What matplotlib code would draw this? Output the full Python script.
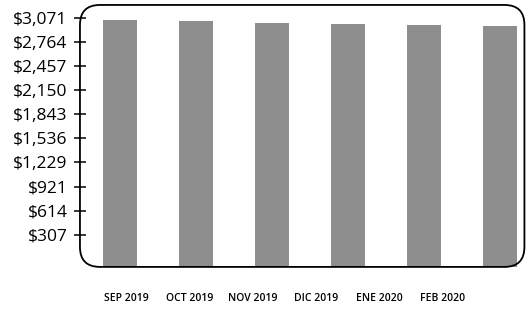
import numpy as np
import matplotlib
matplotlib.use("Agg")
import matplotlib.pyplot as plt
from matplotlib.patches import FancyBboxPatch

months = ["SEP 2019", "OCT 2019", "NOV 2019", "DIC 2019", "ENE 2020", "FEB 2020"]
sales = [3045, 3033, 3010, 2994, 2981, 2969]
tick_values = [307, 614, 921, 1229, 1536, 1843, 2150, 2457, 2764, 3071]

plt.rcParams['font.family'] = ['Open Sans', 'DejaVu Sans']

fig = plt.figure(figsize=(5.26, 3.10), dpi=100)
ax = fig.add_axes([0.152, 0.139, 0.845, 0.845])

y_floor = -102  # bars run down to the bottom of the frame
x = np.arange(len(months))
ax.bar(x, np.array(sales) - y_floor, width=0.45, color='#8e8e8e', bottom=y_floor, zorder=1)
ax.set_xlim(-0.527, 5.32)
ax.set_ylim(y_floor, 3237)

ax.set_yticks(tick_values)
ax.set_yticklabels([f"${v:,}" for v in tick_values], fontsize=12.5)
ax.tick_params(axis='y', direction='inout', length=8, width=1.1, pad=5, zorder=4)
ax.set_xticks([])
for s in ax.spines.values():
    s.set_visible(False)

# rounded frame around the plot area
bbox_w = 0.845 * 526
bbox_h = 0.845 * 310
frame = FancyBboxPatch((0, 0), 1, 1, boxstyle="round,pad=0,rounding_size=0.045",
                       mutation_aspect=bbox_w / bbox_h, transform=ax.transAxes,
                       facecolor='none', edgecolor='black', linewidth=1.3,
                       clip_on=False, zorder=2)
ax.add_patch(frame)

# month labels sit on their own, narrower spacing than the bars
ax2 = ax.twiny()
ax2.set_xlim(-0.728, 6.30)
ax2.xaxis.set_ticks_position('bottom')
ax2.set_xticks(np.arange(len(months)))
ax2.set_xticklabels(months, fontsize=7.5, fontweight='semibold')
ax2.tick_params(axis='x', length=0, pad=19)
for s in ax2.spines.values():
    s.set_visible(False)

fig.savefig("out.png", dpi=100)
